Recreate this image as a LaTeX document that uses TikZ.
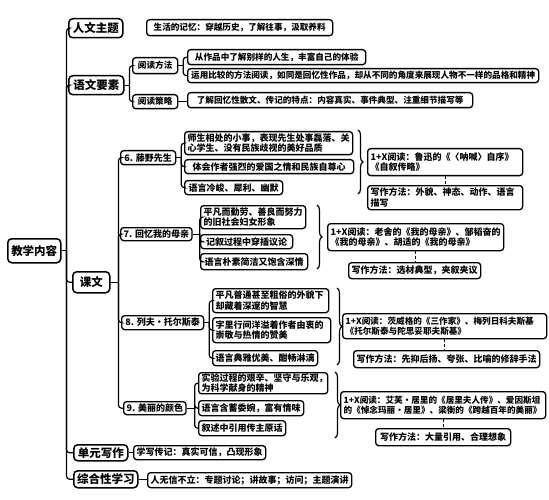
\documentclass[tikz,border=0pt]{standalone}
\usepackage{fontspec}
\newfontfamily\cjk{Noto Sans CJK SC}
\usetikzlibrary{decorations.pathreplacing}
\begin{document}
\begin{tikzpicture}[x=1pt,y=-1pt,
 bx/.style={draw, line width=1.3pt, rounded corners=3pt, inner xsep=3pt, inner ysep=1pt, anchor=north west, font=\cjk\bfseries\fontsize{9}{10.4}\selectfont, align=left},
 sm/.style={bx, font=\cjk\bfseries\fontsize{8.6}{10}\selectfont},
 hd/.style={bx, line width=1.5pt, rounded corners=4pt, font=\cjk\bfseries\fontsize{11.5}{13}\selectfont, align=center},
 cn/.style={line width=1.2pt, rounded corners=3pt},
 br/.style={line width=1.2pt, decorate, decoration={brace, amplitude=5pt}},
 dl/.style={line width=0.9pt, densely dashed}]
\useasboundingbox (0,0) rectangle (549,500);
\fill[white] (0,0) rectangle (549,500);
% level 1
\node[hd, minimum width=53pt, minimum height=24pt] (root) at (7,238) {教学内容};
\node[hd, minimum width=54pt, minimum height=19pt] (rw) at (68,18) {人文主题};
\node[hd, minimum width=55pt, minimum height=19pt] (yw) at (68,75) {语文要素};
\node[hd, minimum width=37pt, minimum height=21pt] (kw) at (72,271) {课文};
\node[hd, minimum width=54pt, minimum height=16pt] (dy) at (73,444) {单元写作};
\node[hd, minimum width=64pt, minimum height=17pt] (zh) at (73,470) {综合性学习};
% top area
\node[sm, minimum width=186pt, minimum height=16pt] (rw1) at (146,19) {生活的记忆：穿越历史，了解往事，汲取养料};
\node[sm, minimum width=45pt, minimum height=16pt] (ff) at (132,57) {阅读方法};
\node[sm, minimum width=45pt, minimum height=14pt] (cl) at (132,94) {阅读策略};
\node[sm, minimum width=178pt, minimum height=15pt] (ff1) at (187,49) {从作品中了解别样的人生，丰富自己的体验};
\node[sm, minimum width=351pt, minimum height=14pt] (ff2) at (187,68) {运用比较的方法阅读，如同是回忆性作品，却从不同的角度来展现人物不一样的品格和精神};
\node[sm, minimum width=285pt, minimum height=15pt] (cl1) at (187,92) {了解回忆性散文、传记的特点：内容真实、事件典型、注重细节描写等};
% lesson 6
\node[bx, minimum width=55pt, minimum height=14pt] (l6) at (120,150) {6. 藤野先生};
\node[bx, text width=162pt, minimum height=23pt] (l6a) at (184,131) {师生相处的小事，表现先生处事磊落、关\\心学生、没有民族歧视的美好品质};
\node[bx, minimum width=169pt, minimum height=14pt] (l6b) at (184,159) {体会作者强烈的爱国之情和民族自尊心};
\node[bx, minimum width=98pt, minimum height=14pt] (l6c) at (184,180) {语言冷峻、犀利、幽默};
\draw[br] (358,130) -- (358,194);
\node[bx, text width=149pt, minimum height=27pt] (x6) at (367,148) {1+X阅读：鲁迅的《〈呐喊〉自序》\\《自叙传略》};
\node[bx, text width=149pt, minimum height=24pt] (w6) at (367,185) {写作方法：外貌、神态、动作、语言\\描写};
% lesson 7
\node[bx, minimum width=65pt, minimum height=13pt] (l7) at (120,227) {7. 回忆我的母亲};
\node[bx, text width=99pt, minimum height=23pt] (l7a) at (200,205) {平凡而勤劳、善良而努力\\的旧社会妇女形象};
\node[bx, minimum width=92pt, minimum height=14pt] (l7b) at (200,234) {记叙过程中穿插议论};
\node[bx, minimum width=107pt, minimum height=16pt] (l7c) at (200,253) {语言朴素简洁又饱含深情};
\draw[br] (317,205) -- (317,269);
\node[bx, text width=170pt, minimum height=27pt] (x7) at (327,223) {1+X阅读：老舍的《我的母亲》、邹韬奋的\\《我的母亲》、胡适的《我的母亲》};
\node[bx, minimum width=130pt, minimum height=16pt] (w7) at (348,262) {写作方法：选材典型，夹叙夹议};
% lesson 8
\node[bx, minimum width=82pt, minimum height=14pt] (l8) at (121,315) {8. 列夫·托尔斯泰};
\node[bx, text width=110pt, minimum height=24pt] (l8a) at (212,288) {平凡普通甚至粗俗的外貌下\\却藏着深邃的智慧};
\node[bx, text width=112pt, minimum height=25pt] (l8b) at (212,317) {字里行间洋溢着作者由衷的\\崇敬与热情的赞美};
\node[bx, minimum width=103pt, minimum height=15pt] (l8c) at (212,350) {语言典雅优美、酣畅淋漓};
\draw[br] (337,288) -- (337,365);
\node[sm, text width=198pt, minimum height=25pt] (x8) at (342,313) {1+X阅读：茨威格的《三作家》、梅列日科夫斯基\\《托尔斯泰与陀思妥耶夫斯基》};
\node[bx, minimum width=180pt, minimum height=17pt] (w8) at (353,350) {写作方法：先抑后扬、夸张、比喻的修辞手法};
% lesson 9
\node[bx, minimum width=60pt, minimum height=13pt] (l9) at (123,401) {9. 美丽的颜色};
\node[bx, text width=123pt, minimum height=21pt] (l9a) at (198,372) {实验过程的艰辛、坚守与乐观，\\为科学献身的精神};
\node[bx, minimum width=105pt, minimum height=15pt] (l9b) at (198,400) {语言含蓄委婉，富有情味};
\node[bx, minimum width=87pt, minimum height=15pt] (l9c) at (198,420) {叙述中引用传主原话};
\draw[br] (335,372) -- (335,438);
\node[sm, text width=199pt, minimum height=27pt] (x9) at (340,391) {1+X阅读：艾芙·居里的《居里夫人传》、爱因斯坦\\的《悼念玛丽·居里》、梁衡的《跨越百年的美丽》};
\node[bx, minimum width=135pt, minimum height=17pt] (w9) at (375,428) {写作方法：大量引用、合理想象};
% bottom
\node[bx, minimum width=127pt, minimum height=14pt] (dy1) at (133,445) {学写传记：真实可信，凸现形象};
\node[bx, minimum width=196pt, minimum height=15pt] (zh1) at (147,472) {人无信不立：专题讨论；讲故事；访问；主题演讲};
% connectors
\draw[cn] (root.east) -- ++(5,0) coordinate (mx);
\foreach \c in {rw,yw,kw,dy,zh} \draw[cn] (mx) |- (\c.west);
\draw[cn] (yw.east) -- ++(5,0) coordinate (yx);
\foreach \c in {ff,cl} \draw[cn] (yx) |- (\c.west);
\draw[cn] (ff.east) -- ++(5,0) coordinate (fx);
\foreach \c in {ff1,ff2} \draw[cn] (fx) |- (\c.west);
\draw[cn] (cl.east) -- (cl.east -| cl1.west);
\draw[cn] (kw.east) -- ++(8,0) coordinate (kx);
\foreach \c in {l6,l7,l8,l9} \draw[cn] (kx) |- (\c.west);
\draw[cn] (l6.east) -- ++(5,0) coordinate (a6);
\foreach \c in {l6a,l6b,l6c} \draw[cn] (a6) |- (\c.west);
\draw[cn] (l7.east) -- ++(7,0) coordinate (a7);
\foreach \c in {l7a,l7b,l7c} \draw[cn] (a7) |- (\c.west);
\draw[cn] (l8.east) -- ++(5,0) coordinate (a8);
\foreach \c in {l8a,l8b,l8c} \draw[cn] (a8) |- (\c.west);
\draw[cn] (l9.east) -- ++(8,0) coordinate (a9);
\foreach \c in {l9a,l9b,l9c} \draw[cn] (a9) |- (\c.west);
\draw[cn] (dy.east) -- (dy.east -| dy1.west);
\draw[cn] (zh.east) -- (zh.east -| zh1.west);
\draw[dl] (x6.south) -- (x6.south |- w6.north);
\draw[dl] (x7.south) -- (x7.south |- w7.north);
\draw[dl] (x8.south) -- (x8.south |- w8.north);
\draw[dl] (x9.south) -- (x9.south |- w9.north);
\end{tikzpicture}
\end{document}
